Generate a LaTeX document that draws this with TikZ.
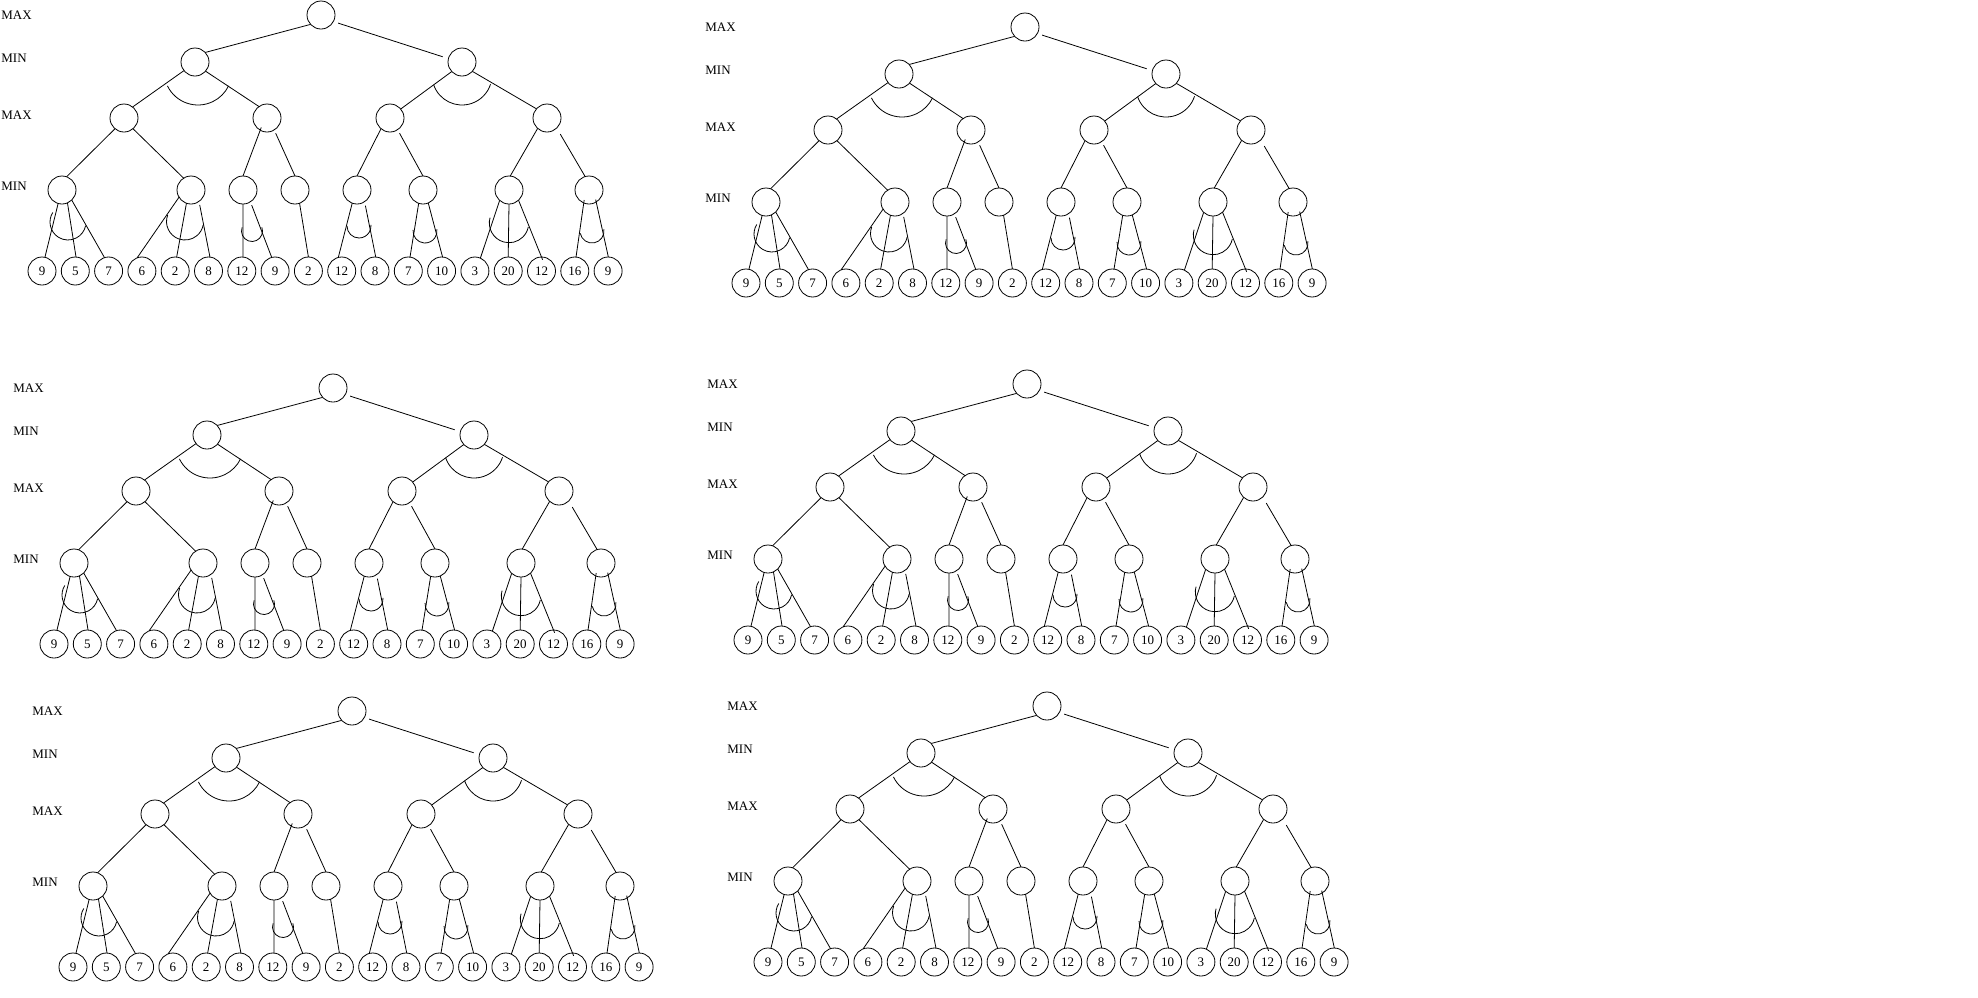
\documentclass[tikz,border=0pt]{standalone}
\usepackage{fontspec}
\setmainfont{Liberation Serif}
\tikzset{
  treenode/.style={draw, circle, minimum size=28pt, inner sep=0pt, outer sep=0pt},
  plylabel/.style={anchor=west, inner sep=0pt},
}
\begin{document}
\begin{tikzpicture}[x=1pt, y=-1pt, line width=0.8pt, font=\fontsize{13}{15}\selectfont]
  \useasboundingbox (0,0) rectangle (1978,997);
  \foreach \dx/\dy in {0/0, 704/12, 12/373, 706/369, 31/696, 726/691} {
    \begin{scope}[shift={(\dx,\dy)}]
      % ply labels
      \node[plylabel] (lmax) at (1,15) {MAX};
      \node[plylabel] (lmin) at (1,58) {MIN};
      \node[plylabel] (lmax2) at (1,115) {MAX};
      \node[plylabel] (lmin2) at (1,186) {MIN};
      % inner nodes
      \node[treenode] (r) at (321,15) {};
      \node[treenode] (p1) at (195,62) {};
      \node[treenode] (p2) at (462,62) {};
      \node[treenode] (q1) at (124,118) {};
      \node[treenode] (q2) at (267,118) {};
      \node[treenode] (q3) at (390,118) {};
      \node[treenode] (q4) at (547,118) {};
      \foreach \x [count=\i] in {62,191,243,295,357,423,509,589}
        \node[treenode] (m\i) at (\x,190) {};
      % leaves
      \foreach \v [count=\i] in {9,5,7,6,2,8,12,9,2,12,8,7,10,3,20,12,16,9}
        \node[treenode] (l\i) at ({42+33.3*(\i-1)},271) {\v};
      % edges
      \foreach \a/\b/\s/\e in {r.222/p1.43/0/0, r.332/p2.166/5/6,
          p1.218/q1.52/0/0, p1.319/q2.125/0/0, p2.223/q3.40/0/0, p2.318/q4.139/0/0,
          q1.230/m1.71/0/0, q1.310/m2.122/0/0, q2.241/m3.90/-3/0, q2.301/m4.90/3.5/0,
          q3.230/m5.90/0/0, q3.303/m6.90/4/0, q4.228/m7.85/0/0, q4.314/m8.106/7/0,
          m1.254/l1.78/0/0, m1.293/l2.87/0/0, m1.314/l3.107/0/0,
          m2.211/l4.110/0/0, m2.251/l5.84/0/0, m2.305/l6.84/3.5/0,
          m3.270/l7.85/0/0, m3.302/l8.104/3.5/0, m4.289/l9.90/0/0,
          m5.250/l10.104/0/0, m5.303/l11.87/4/0, m6.252/l12.83/0/0, m6.292/l13.86/0/0,
          m7.228/l14.67/0/0, m7.270/l15.90/0/0, m7.313/l16.90/0/-3,
          m8.248/l17.85/-3/0, m8.301/l18.89/-2.5/0}
        \draw[shorten <=\s pt, shorten >=\e pt] (\a) -- (\b);
      % arcs
      \foreach \cx/\cy/\rad/\s/\e in {198/71/34/206/334, 462/75/30/199/342,
          68/222/18/148/348, 185/221.5/18.5/159.5/349, 252/231/10.5/160/380,
          359/226/12/180/365, 425/231/12/175/368, 509/223/19.7/164/348,
          592/231/12/191/368}
        \draw ([shift={(\s:\rad pt)}]\cx,\cy) arc[start angle=\s, end angle=\e, radius=\rad pt];
    \end{scope}
  }
\end{tikzpicture}
\end{document}
